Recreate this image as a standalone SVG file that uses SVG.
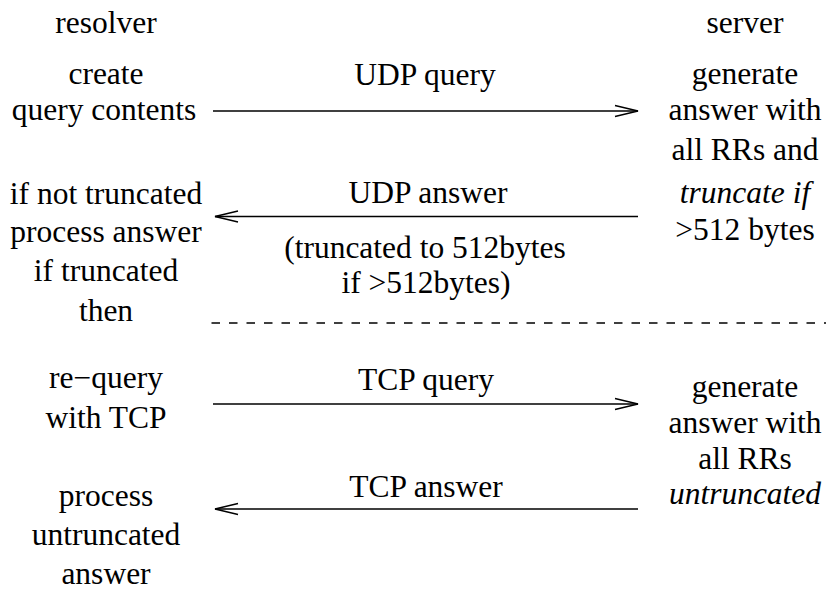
<svg xmlns="http://www.w3.org/2000/svg" width="830" height="593" viewBox="0 0 830 593" font-family="Liberation Serif" font-size="31.5" text-anchor="middle">
<style>
.c{stroke:#000;stroke-width:1.3;fill:none}
.d{stroke:#000;stroke-width:1.3;stroke-dasharray:8.5 9}
</style>
<defs>
<marker id="ah" markerWidth="26" markerHeight="14" refX="24" refY="7" orient="auto" markerUnits="userSpaceOnUse">
<path d="M1,1.5 L24,7 L1,12.5" fill="none" stroke="#000" stroke-width="1.3"/>
</marker>
</defs>
<g id="resolver-title"><text x="106" y="33">resolver</text></g>
<g id="server-title"><text x="745" y="33">server</text></g>
<g id="r1"><text x="106" y="84">create</text><text x="104" y="120">query contents</text></g>
<g id="s1"><text x="745" y="84">generate</text><text x="745" y="120">answer with</text><text x="745" y="160">all RRs and</text><text font-style="italic" x="745" y="203">truncate if</text><text x="745" y="240">&gt;512 bytes</text></g>
<g id="r2"><text x="106" y="204">if not truncated</text><text x="106" y="242">process answer</text><text x="106" y="281">if truncated</text><text x="106" y="321">then</text></g>
<g id="r3"><text x="106" y="388">re−query</text><text x="106" y="428">with TCP</text></g>
<g id="s2"><text x="745" y="397">generate</text><text x="745" y="433">answer with</text><text x="745" y="469">all RRs</text><text font-style="italic" x="745" y="504">untruncated</text></g>
<g id="r4"><text x="106" y="506">process</text><text x="106" y="545">untruncated</text><text x="106" y="584">answer</text></g>
<g id="connectors">
<line class="c" x1="213" y1="111" x2="638" y2="111" marker-end="url(#ah)"/>
<line class="c" x1="638" y1="216.5" x2="215" y2="216.5" marker-end="url(#ah)"/>
<line class="c" x1="213" y1="404" x2="638" y2="404" marker-end="url(#ah)"/>
<line class="c" x1="638" y1="509" x2="215" y2="509" marker-end="url(#ah)"/>
<line class="d" x1="211.5" y1="323" x2="826" y2="323"/>
<text x="425" y="85">UDP query</text>
<text x="428" y="203">UDP answer</text>
<text x="425" y="258">(truncated to 512bytes</text>
<text x="426" y="293">if &gt;512bytes)</text>
<text x="426" y="390">TCP query</text>
<text x="426" y="497">TCP answer</text>
</g>
</svg>
